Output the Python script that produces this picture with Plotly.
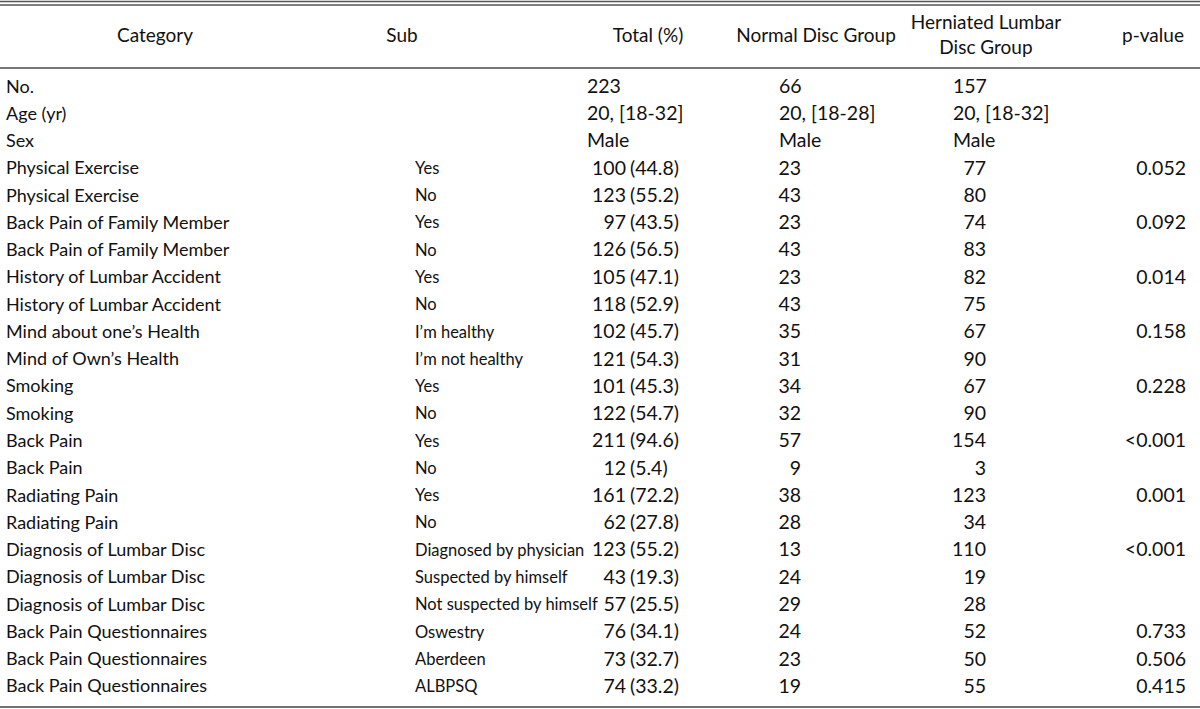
import plotly.graph_objects as go

# ---------------- data ----------------
headers = ["Category", "Sub", "Total (%)", "Normal Disc Group",
           "Herniated Lumbar<br>Disc Group", "p-value"]

categories = ["No.", "Age (yr)", "Sex",
              "Physical Exercise", "Physical Exercise",
              "Back Pain of Family Member", "Back Pain of Family Member",
              "History of Lumbar Accident", "History of Lumbar Accident",
              "Mind about one’s Health", "Mind of Own’s Health",
              "Smoking", "Smoking",
              "Back Pain", "Back Pain",
              "Radiating Pain", "Radiating Pain",
              "Diagnosis of Lumbar Disc", "Diagnosis of Lumbar Disc", "Diagnosis of Lumbar Disc",
              "Back Pain Questionnaires", "Back Pain Questionnaires", "Back Pain Questionnaires"]

subs = ["", "", "",
        "Yes", "No", "Yes", "No", "Yes", "No",
        "I’m healthy", "I’m not healthy",
        "Yes", "No", "Yes", "No", "Yes", "No",
        "Diagnosed by physician", "Suspected by himself", "Not suspected by himself",
        "Oswestry", "Aberdeen", "ALBPSQ"]

# summary rows (No., Age, Sex)
summary_total = ["223", "20, [18-32]", "Male"]
summary_normal = ["66", "20, [18-28]", "Male"]
summary_herniated = ["157", "20, [18-32]", "Male"]

# count rows (from Physical Exercise onward)
total_n = [100, 123, 97, 126, 105, 118, 102, 121, 101, 122, 211, 12, 161, 62,
           123, 43, 57, 76, 73, 74]
total_pct = [44.8, 55.2, 43.5, 56.5, 47.1, 52.9, 45.7, 54.3, 45.3, 54.7, 94.6, 5.4,
             72.2, 27.8, 55.2, 19.3, 25.5, 34.1, 32.7, 33.2]
normal_n = [23, 43, 23, 43, 23, 43, 35, 31, 34, 32, 57, 9, 38, 28, 13, 24, 29, 24, 23, 19]
herniated_n = [77, 80, 74, 83, 82, 75, 67, 90, 67, 90, 154, 3, 123, 34, 110, 19, 28,
               52, 50, 55]
p_values = ["0.052", "", "0.092", "", "0.014", "", "0.158", "", "0.228", "",
            "<0.001", "", "0.001", "", "<0.001", "", "", "0.733", "0.506", "0.415"]

# ---------------- style / layout ----------------
FONT = "Lato"
SIZE_CAT = 18
SIZE_SUB = 16.5
SIZE_NUM = 19.5
SIZE_HEAD = 19
COLOR = "#111111"
W, H = 1200, 709
ROW0_PX, ROW_PX = 88, 27.27
HEADER_PX = 37

col_cat_x = 6
col_sub_x = 415
col_total_left = 587
col_total_num_right = 626
col_total_pct_left = 630
col_normal_left = 779
col_normal_right = 801
col_hern_left = 953
col_hern_right = 986
col_p_right = 1186
header_x = [155, 402, 648, 816, 986, 1153]

n_rows = len(categories)
rows = list(range(n_rows))
summary_rows = rows[:3]
count_rows = rows[3:]
header_y = (HEADER_PX - ROW0_PX) / ROW_PX


def esc(s):
    return s.replace("<", "&lt;")


fig = go.Figure()


def add_text(xs, ys, texts, pos, size):
    fig.add_trace(go.Scatter(
        x=xs, y=ys, text=texts, mode="text", textposition=pos,
        textfont=dict(family=FONT, size=size, color=COLOR),
        hoverinfo="skip", showlegend=False, cliponaxis=False))


# headers
add_text(header_x, [header_y] * len(headers), headers, "middle center", SIZE_HEAD)
# category & sub
add_text([col_cat_x] * n_rows, rows, categories, "middle right", SIZE_CAT)
add_text([col_sub_x] * n_rows, rows, subs, "middle right", SIZE_SUB)
# summary rows
add_text([col_total_left] * 3, summary_rows, summary_total, "middle right", SIZE_NUM)
add_text([col_normal_left] * 3, summary_rows, summary_normal, "middle right", SIZE_NUM)
add_text([col_hern_left] * 3, summary_rows, summary_herniated, "middle right", SIZE_NUM)
# count rows
add_text([col_total_num_right] * len(count_rows), count_rows,
         [str(v) for v in total_n], "middle left", SIZE_NUM)
add_text([col_total_pct_left] * len(count_rows), count_rows,
         [f"({v})" for v in total_pct], "middle right", SIZE_NUM)
add_text([col_normal_right] * len(count_rows), count_rows,
         [str(v) for v in normal_n], "middle left", SIZE_NUM)
add_text([col_hern_right] * len(count_rows), count_rows,
         [str(v) for v in herniated_n], "middle left", SIZE_NUM)
add_text([col_p_right] * len(count_rows), count_rows,
         [esc(v) for v in p_values], "middle left", SIZE_NUM)


def hline(px, width, color):
    y = 1 - px / H
    fig.add_shape(type="line", xref="paper", yref="paper", x0=0, x1=1,
                  y0=y, y1=y, line=dict(color=color, width=width))


hline(1.5, 1.5, "#555555")
hline(5, 1.5, "#555555")
hline(68, 2, "#777777")
hline(707, 1.5, "#444444")

fig.update_layout(
    width=W, height=H, autosize=False,
    margin=dict(l=0, r=0, t=0, b=0),
    paper_bgcolor="white", plot_bgcolor="white",
    xaxis=dict(range=[0, W], visible=False, fixedrange=True),
    yaxis=dict(range=[(H - ROW0_PX) / ROW_PX, -ROW0_PX / ROW_PX],
               visible=False, fixedrange=True),
)

fig.write_html(
    "out.html",
    config={"displayModeBar": False, "staticPlot": True},
    post_script="document.body.style.margin='0';document.body.style.overflow='hidden';",
)
